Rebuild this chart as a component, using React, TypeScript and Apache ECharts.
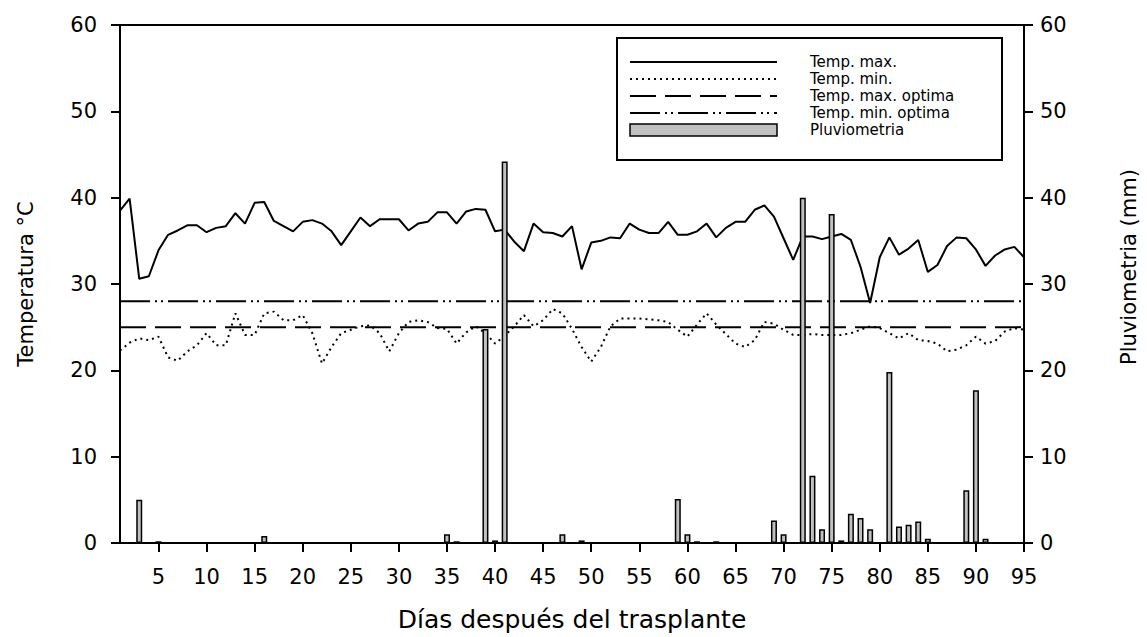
import React, { useEffect, useRef } from "react";
import * as echarts from "echarts";

// Días después del trasplante (1..95)
const days: number[] = Array.from({ length: 95 }, (_, i) => i + 1);

const tempMax: number[] = [
  38.5, 39.9, 30.6, 30.9, 33.9, 35.7, 36.2, 36.8, 36.8, 36.0,
  36.5, 36.7, 38.2, 37.0, 39.4, 39.5, 37.3, 36.7, 36.1, 37.2,
  37.4, 37.0, 36.1, 34.5, 36.1, 37.7, 36.7, 37.5, 37.5, 37.5,
  36.2, 37.0, 37.2, 38.3, 38.3, 37.0, 38.4, 38.7, 38.6, 36.1,
  36.3, 34.9, 33.8, 37.0, 36.0, 35.9, 35.5, 36.7, 31.7, 34.8,
  35.0, 35.4, 35.3, 37.0, 36.3, 35.9, 35.9, 37.2, 35.7, 35.7,
  36.1, 37.0, 35.4, 36.5, 37.2, 37.2, 38.6, 39.1, 37.8, 35.3,
  32.8, 35.5, 35.5, 35.2, 35.5, 35.8, 35.1, 32.0, 27.8, 33.1,
  35.4, 33.4, 34.1, 35.1, 31.4, 32.2, 34.4, 35.4, 35.3, 34.0,
  32.1, 33.3, 34.0, 34.3, 33.1,
];

const tempMin: number[] = [
  22.3, 23.2, 23.7, 23.5, 23.9, 21.5, 21.1, 22.2, 22.9, 24.3,
  22.9, 22.9, 26.6, 24.1, 24.1, 26.6, 26.8, 25.8, 25.8, 26.4,
  24.3, 20.8, 22.7, 24.3, 24.7, 25.1, 25.2, 24.3, 22.2, 24.3,
  25.6, 25.8, 25.6, 24.9, 24.8, 23.1, 24.4, 25.1, 24.3, 23.1,
  24.0, 25.1, 26.4, 25.1, 25.8, 27.1, 26.6, 24.8, 22.7, 21.0,
  22.7, 25.1, 26.0, 26.0, 26.0, 25.9, 25.8, 25.6, 24.7, 23.9,
  25.3, 26.6, 25.3, 24.2, 23.1, 22.7, 23.5, 25.6, 25.4, 24.7,
  24.1, 24.1, 24.2, 24.1, 24.1, 24.1, 24.3, 24.7, 25.1, 24.9,
  24.3, 23.7, 24.3, 23.5, 23.4, 23.1, 22.2, 22.4, 22.9, 23.9,
  23.1, 23.4, 24.5, 24.9, 24.7,
];

const optMaxTemp = 25;
const optMinTemp = 28;
const lineSpan: number[] = [1, 95];

const rainDays: number[] = [3, 5, 16, 35, 36, 39, 40, 41, 47, 49, 59, 60, 61, 63, 69, 70, 72, 73, 74, 75, 76, 77, 78, 79, 81, 82, 83, 84, 85, 89, 90, 91];
const rainMm: number[] = [5.0, 0.2, 0.8, 1.0, 0.2, 24.8, 0.3, 44.2, 1.0, 0.3, 5.1, 1.0, 0.2, 0.2, 2.6, 1.0, 40.0, 7.8, 1.6, 38.1, 0.3, 3.4, 2.9, 1.6, 19.8, 1.9, 2.1, 2.5, 0.5, 6.1, 17.7, 0.5];

const xTicks: number[] = [5, 10, 15, 20, 25, 30, 35, 40, 45, 50, 55, 60, 65, 70, 75, 80, 85, 90, 95];

const legendLabels: string[] = ["Temp. max.", "Temp. min.", "Temp. max. optima", "Temp. min. optima", "Pluviometria"];

const FONT = "'DejaVu Sans', 'Liberation Sans', Arial, sans-serif";

export default function App() {
  const ref = useRef<HTMLDivElement>(null);

  useEffect(() => {
    if (!ref.current) return;
    const chart = echarts.init(ref.current, undefined, { renderer: "svg" });

    const axisCommon = {
      axisLine: { show: true, lineStyle: { color: "#000", width: 2 } },
      axisTick: { show: true, inside: false, length: 9, lineStyle: { color: "#000", width: 2 } },
      splitLine: { show: false },
    };

    const dashMax = [26, 9];
    const dashMin = [30, 5, 2, 4, 2, 5];
    const dotted = [2, 4];

    const lx0 = 630, lx1 = 777, tx = 810;
    const rows = [62, 79, 96, 113, 130];

    const option: any = {
      animation: false,
      grid: { left: 120, right: 122, top: 25, bottom: 94, show: true, borderColor: "#000", borderWidth: 2, backgroundColor: "transparent" },
      xAxis: {
        type: "value",
        min: 1,
        max: 95,
        ...axisCommon,
        axisTick: { ...axisCommon.axisTick, customValues: xTicks },
        axisLabel: { customValues: xTicks, margin: 23, fontSize: 21, color: "#000", fontFamily: FONT },
        name: "Días después del trasplante",
        nameLocation: "middle",
        nameGap: 64,
        nameTextStyle: { fontSize: 25, color: "#000", fontFamily: FONT },
      },
      yAxis: [
        {
          type: "value",
          position: "left",
          min: 0,
          max: 60,
          interval: 10,
          ...axisCommon,
          axisLabel: { margin: 23, fontSize: 21, color: "#000", fontFamily: FONT },
          name: "Temperatura °C",
          nameLocation: "middle",
          nameRotate: 90,
          nameGap: 84,
          nameTextStyle: { fontSize: 21, color: "#000", fontFamily: FONT },
        },
        {
          type: "value",
          position: "right",
          min: 0,
          max: 60,
          interval: 10,
          ...axisCommon,
          axisLabel: { margin: 16, fontSize: 21, color: "#000", fontFamily: FONT },
          name: "Pluviometria (mm)",
          nameLocation: "middle",
          nameRotate: 90,
          nameGap: 94,
          nameTextStyle: { fontSize: 21, color: "#000", fontFamily: FONT, padding: [0, 0, 0, 34] },
        },
      ],
      series: [
        {
          name: "Temp. max.",
          type: "line",
          yAxisIndex: 0,
          z: 2,
          symbol: "none",
          data: days.map((d, i) => [d, tempMax[i]]),
          lineStyle: { color: "#000", width: 2 },
        },
        {
          name: "Temp. min.",
          type: "line",
          yAxisIndex: 0,
          z: 2,
          symbol: "none",
          data: days.map((d, i) => [d, tempMin[i]]),
          lineStyle: { color: "#000", width: 2, type: dotted },
        },
        {
          name: "Temp. max. optima",
          type: "line",
          yAxisIndex: 0,
          z: 2,
          symbol: "none",
          data: lineSpan.map((d) => [d, optMaxTemp]),
          lineStyle: { color: "#000", width: 2, type: dashMax },
        },
        {
          name: "Temp. min. optima",
          type: "line",
          yAxisIndex: 0,
          z: 2,
          symbol: "none",
          data: lineSpan.map((d) => [d, optMinTemp]),
          lineStyle: { color: "#000", width: 2, type: dashMin },
        },
        {
          name: "Pluviometria",
          type: "bar",
          yAxisIndex: 1,
          z: 4,
          barWidth: 6,
          data: rainDays.map((d, i) => [d, rainMm[i]]),
          itemStyle: { color: "#c0c0c0", borderColor: "#000", borderWidth: 1.5 },
        },
      ],
      graphic: [
        {
          type: "rect",
          z: 10,
          shape: { x: 617, y: 38, width: 385, height: 122 },
          style: { fill: "#fff", stroke: "#000", lineWidth: 2 },
        },
        { type: "line", z: 11, shape: { x1: lx0, y1: rows[0], x2: lx1, y2: rows[0] }, style: { stroke: "#000", lineWidth: 2 } },
        { type: "line", z: 11, shape: { x1: lx0, y1: rows[1], x2: lx1, y2: rows[1] }, style: { stroke: "#000", lineWidth: 2, lineDash: dotted } },
        { type: "line", z: 11, shape: { x1: lx0, y1: rows[2], x2: lx1, y2: rows[2] }, style: { stroke: "#000", lineWidth: 2, lineDash: dashMax } },
        { type: "line", z: 11, shape: { x1: lx0, y1: rows[3], x2: lx1, y2: rows[3] }, style: { stroke: "#000", lineWidth: 2, lineDash: dashMin } },
        { type: "rect", z: 11, shape: { x: lx0, y: rows[4] - 6, width: lx1 - lx0, height: 12 }, style: { fill: "#c0c0c0", stroke: "#000", lineWidth: 1.5 } },
        ...legendLabels.map((t, i) => ({
          type: "text",
          z: 11,
          x: tx,
          y: rows[i],
          style: { text: t, fill: "#000", font: `15px ${FONT}`, lineHeight: 15, verticalAlign: "middle" },
        })),
      ],
    };

    chart.setOption(option);
    return () => chart.dispose();
  }, []);

  return (
    <div
      ref={ref}
      style={{ position: "fixed", left: 0, top: 0, width: 1147, height: 637, background: "#fff" }}
    />
  );
}
